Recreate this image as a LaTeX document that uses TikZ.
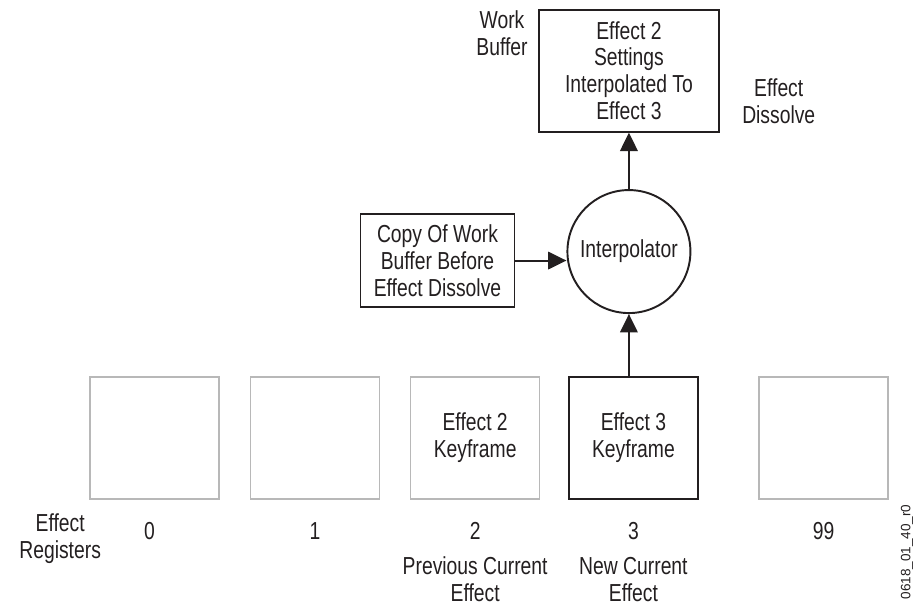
\documentclass[tikz,border=0pt]{standalone}
\usepackage{fontspec}
\setmainfont{Liberation Sans}[FakeStretch=0.785]
\newfontfamily\tagfont{Liberation Sans}
\usepackage{xcolor}
\usepackage{tikz}
\usetikzlibrary{arrows.meta, positioning}
\definecolor{ink}{HTML}{231F20}
\tikzset{
    register/.style={rectangle, minimum width=2.58cm, minimum height=2.44cm, text centered, align=center, draw=black!28, line width=0.9pt},
    current/.style={register, draw=ink, line width=1.1pt},
    buffer/.style={rectangle, text centered, align=center, draw=ink, line width=1.1pt},
    interp/.style={circle, minimum size=2.46cm, inner sep=0pt, draw=ink, line width=1.1pt},
    caption/.style={align=center, inner sep=0pt},
    arrow/.style={draw=ink, line width=1.1pt, -{Triangle[length=10.5pt, width=10pt]}}
}

\begin{document}
\begin{tikzpicture}[node distance=1.2cm, font=\fontsize{14}{15.3}\selectfont, text=ink]
    \useasboundingbox (0,0) rectangle (18.4,12.1);

    % effect registers
    \node (reg0) [register] at (3.09,3.34) {};
    \node (reg1) [register, right=0.60cm of reg0] {};
    \node (reg2) [register, right=0.59cm of reg1] {Effect 2\\Keyframe};
    \node (reg3) [current, right=0.55cm of reg2] {Effect 3\\Keyframe};
    \node (reg99) [register, right=1.19cm of reg3] {};

    \node (num0) [caption, below=0.45cm of reg0, xshift=-0.1cm] {0};
    \node (num1) [caption, below=0.45cm of reg1] {1};
    \node (num2) [caption, below=0.45cm of reg2] {2};
    \node (num3) [caption, below=0.45cm of reg3] {3};
    \node (num99) [caption, below=0.45cm of reg99] {99};
    \node (registers) [caption, left=0.85cm of num0, yshift=-0.14cm] {Effect\\Registers};
    \node (prev) [caption, below=0.32cm of num2] {Previous Current\\Effect};
    \node (newcur) [caption, below=0.32cm of num3] {New Current\\Effect};

    % interpolation
    \node (interp) [interp, above=1.24cm of reg3, xshift=-0.09cm] {Interpolator};
    \node (copy) [buffer, minimum width=3.08cm, minimum height=1.86cm, left=1.02cm of interp, yshift=-0.18cm] {Copy Of Work\\Buffer Before\\Effect Dissolve};
    \node (work) [buffer, minimum width=3.6cm, minimum height=2.44cm, above=1.13cm of interp] {Effect 2\\Settings\\Interpolated To\\Effect 3};
    \node (workbuf) [caption, left=0.2cm of work.north west, anchor=north east, yshift=-0.04cm] {Work\\Buffer};
    \node (dissolve) [caption, right=0.44cm of work.east, yshift=-0.62cm] {Effect\\Dissolve};

    \node (tag) [rotate=90, font=\tagfont\fontsize{7.7}{9}\selectfont] at (18.14,1.06) {0618\_01\_40\_r0};

    \draw [arrow] (reg3.north -| interp) -- (interp);
    \draw [arrow] (copy.east) -- (copy.east -| interp.west);
    \draw [arrow] (interp) -- (work);
\end{tikzpicture}
\end{document}
